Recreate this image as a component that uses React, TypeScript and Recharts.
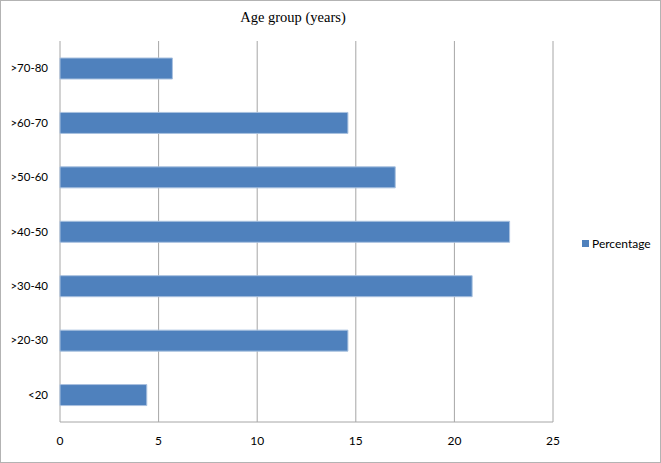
import React from "react";
import { BarChart, Bar, XAxis, YAxis, CartesianGrid } from "recharts";

const categories = ["<20", ">20-30", ">30-40", ">40-50", ">50-60", ">60-70", ">70-80"];
const percentage = [4.4, 14.6, 20.9, 22.8, 17.0, 14.6, 5.7];
const xTicks = [0, 5, 10, 15, 20, 25];
const seriesName = "Percentage";

const data = categories.map((c, i) => ({ name: c, Percentage: percentage[i] }));

export default function App() {
  return (
    <div style={{ position: "absolute", left: 0, top: 0, width: 661, height: 463, background: "#fff" }}>
      <BarChart
        width={661}
        height={463}
        data={data}
        layout="vertical"
        margin={{ top: 41, right: 108, left: 0, bottom: 11 }}
      >
        <CartesianGrid horizontal={false} stroke="#a6a6a6" strokeWidth={1} />
        <XAxis
          type="number"
          domain={[0, 25]}
          ticks={xTicks}
          height={30}
          tickLine={false}
          tickMargin={4}
          axisLine={{ stroke: "#a6a6a6" }}
          tick={{ fill: "#000", fontSize: 12, fontFamily: "Lato, sans-serif", dy: 4 }}
        />
        <YAxis
          type="category"
          dataKey="name"
          reversed
          width={60}
          tickLine={false}
          axisLine={false}
          tickMargin={6}
          tick={{ fill: "#000", fontSize: 11.5, fontFamily: "Lato, sans-serif" }}
        />
        <Bar dataKey="Percentage" name={seriesName} fill="#4F81BD" stroke="#A9C1DF" strokeWidth={1} barSize={21} isAnimationActive={false} />
      </BarChart>
      <div
        style={{
          position: "absolute",
          left: 582,
          top: 236,
          display: "flex",
          alignItems: "center",
          fontFamily: "Lato, sans-serif",
          fontSize: 12,
          color: "#000",
        }}
      >
        <span style={{ display: "inline-block", width: 7, height: 7, background: "#4F81BD", marginRight: 3 }} />
        <span>{seriesName}</span>
      </div>
      <div
        style={{
          position: "absolute",
          left: 0,
          top: 9,
          width: 586,
          textAlign: "center",
          fontFamily: "'Liberation Serif', serif",
          fontSize: 14.5,
          color: "#000",
        }}
      >
        Age group (years)
      </div>
      <div
        style={{
          position: "absolute",
          left: 0,
          top: 0,
          width: 661,
          height: 463,
          boxSizing: "border-box",
          border: "1px solid #b3b3b3",
          pointerEvents: "none",
        }}
      />
    </div>
  );
}
